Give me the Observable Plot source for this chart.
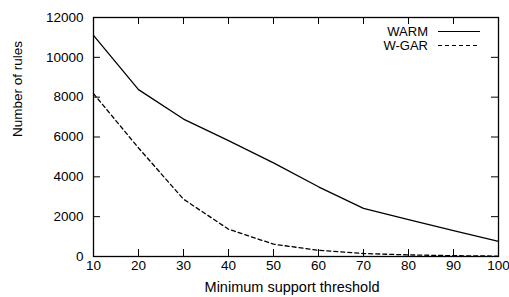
<!DOCTYPE html>
<html><head><meta charset="utf-8">
<script src="https://cdn.jsdelivr.net/npm/d3@7"></script>
<script src="https://cdn.jsdelivr.net/npm/@observablehq/plot@0.6"></script>
<style>html,body{margin:0;padding:0;background:#fff} svg{display:block}</style>
</head><body><div id="chart"></div>
<script>
// ---- data ----
const thresholds = [10, 20, 30, 40, 50, 60, 70, 80, 90, 100];
const warm = [11100, 8380, 6900, 5820, 4700, 3500, 2420, 1850, 1300, 760];
const wgar = [8180, 5450, 2880, 1370, 620, 310, 150, 80, 40, 20];
const seriesNames = ["WARM", "W-GAR"];
const xTicks = [10, 20, 30, 40, 50, 60, 70, 80, 90, 100];
const yTicks = [0, 2000, 4000, 6000, 8000, 10000, 12000];
const xLabel = "Minimum support threshold";
const yLabel = "Number of rules";

const warmRows = thresholds.map((t, i) => ({t, v: warm[i]}));
const wgarRows = thresholds.map((t, i) => ({t, v: wgar[i]}));

// ---- layout ----
const W = 509, H = 297, mL = 93, mR = 11, mT = 17, mB = 41;
const plotW = W - mL - mR, plotH = H - mT - mB;
const TICK = 7;
const DASH = "4,3";

const legend = (index, scales, values, dims) => {
  const g = d3.create("svg:g");
  const xr = dims.width - dims.marginRight;
  const rows = [{name: seriesNames[0], dy: 14.5, dash: null}, {name: seriesNames[1], dy: 28.5, dash: DASH}];
  rows.forEach(r => {
    const y = dims.marginTop + r.dy;
    g.append("text").attr("x", xr - 70).attr("y", y).attr("dy", "0.35em")
      .attr("text-anchor", "end").attr("fill", "#000").attr("font-size", 13).text(r.name);
    g.append("line").attr("x1", xr - 60).attr("x2", xr - 18).attr("y1", y).attr("y2", y)
      .attr("stroke", "#000").attr("stroke-width", 1.2).attr("stroke-dasharray", r.dash);
  });
  return g.node();
};

const chart = Plot.plot({
  width: W, height: H,
  marginLeft: mL, marginRight: mR, marginTop: mT, marginBottom: mB,
  style: {fontFamily: "'Liberation Sans', Arial, sans-serif", fontSize: "13.5px", color: "#000", background: "#fff"},
  x: {domain: [10, 100]},
  y: {domain: [0, 12000]},
  marks: [
    Plot.axisX(xTicks, {tickSize: 0, tickPadding: 4, tickFormat: d => String(d), label: null}),
    Plot.axisY(yTicks, {tickSize: 0, tickPadding: 10, tickFormat: d => String(d), label: null}),
    Plot.ruleX(xTicks, {insetTop: plotH - TICK, stroke: "#000"}),
    Plot.ruleX(xTicks, {insetBottom: plotH - TICK, stroke: "#000"}),
    Plot.ruleY(yTicks, {insetRight: plotW - TICK, stroke: "#000"}),
    Plot.ruleY(yTicks, {insetLeft: plotW - TICK, stroke: "#000"}),
    Plot.line(warmRows, {x: "t", y: "v", stroke: "#000", strokeWidth: 1.3}),
    Plot.line(wgarRows, {x: "t", y: "v", stroke: "#000", strokeWidth: 1.3, strokeDasharray: DASH}),
    Plot.frame({stroke: "#000", strokeWidth: 1.3}),
    Plot.text([xLabel], {frameAnchor: "bottom", dy: 35, dx: -4, fontSize: 14.5, fill: "#000"}),
    Plot.text([yLabel], {frameAnchor: "left", dx: -76, rotate: -90, fontSize: 13.5, fill: "#000"}),
    legend
  ]
});
document.getElementById("chart").appendChild(chart);
</script>
</body></html>
